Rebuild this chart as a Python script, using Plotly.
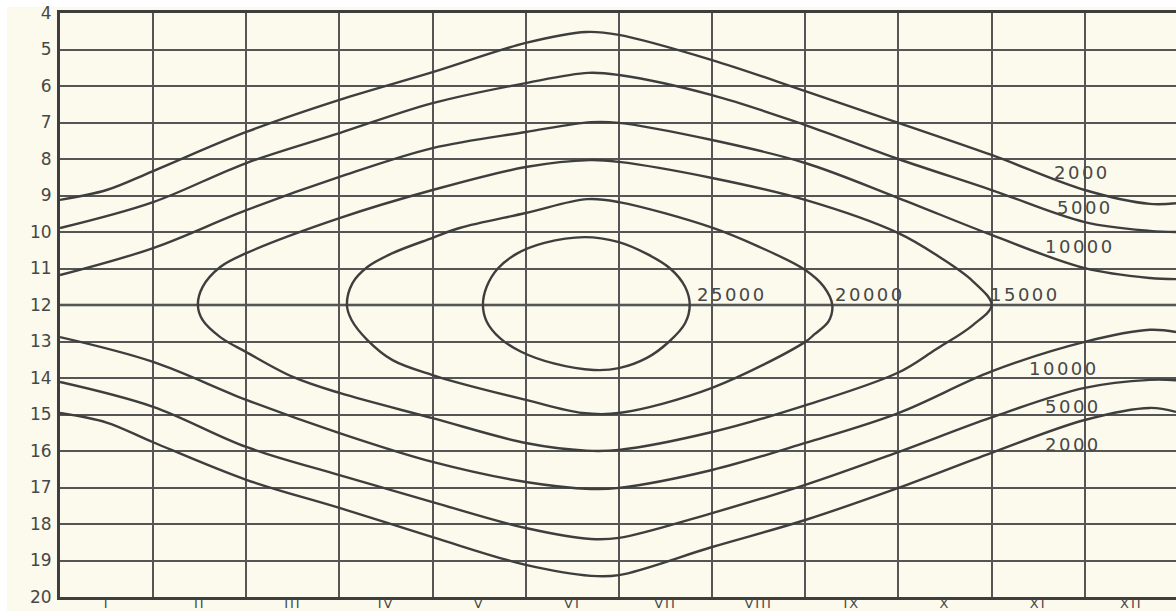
import plotly.graph_objects as go

# Month columns (x = months since 1 January) and hour rows
MONTHS = ["I", "II", "III", "IV", "V", "VI", "VII", "VIII", "IX", "X", "XI", "XII"]
HOURS = list(range(4, 21))

# Open isolines, morning branches (x: month position, y: hour of day)
am_2000_x = [0, 0.5, 1, 2, 3, 4, 5, 5.65, 6, 7, 8, 9, 10, 11, 11.7, 11.98]
am_2000_y = [9.12, 8.85, 8.33, 7.26, 6.38, 5.62, 4.82, 4.52, 4.60, 5.29, 6.14, 7.01, 7.89, 8.85, 9.23, 9.21]

am_5000_x = [0, 1, 2, 3, 4, 5, 5.67, 6, 7, 8, 9, 10, 11, 11.7, 11.98]
am_5000_y = [9.89, 9.18, 8.11, 7.29, 6.47, 5.92, 5.64, 5.70, 6.25, 7.07, 8.00, 8.85, 9.73, 9.97, 10.0]

am_10000_x = [0, 1, 2, 3, 4, 5, 5.7, 6, 7, 8, 9, 10, 11, 11.7, 11.98]
am_10000_y = [11.18, 10.44, 9.40, 8.49, 7.70, 7.26, 6.99, 7.01, 7.48, 8.11, 9.07, 10.08, 10.99, 11.26, 11.29]

# Open isolines, afternoon branches
pm_10000_x = [0, 1, 2, 3, 4, 5, 5.7, 6, 7, 8, 9, 10, 11, 11.7, 11.98]
pm_10000_y = [12.88, 13.56, 14.60, 15.51, 16.30, 16.85, 17.04, 17.01, 16.52, 15.78, 14.96, 13.82, 13.01, 12.68, 12.74]

pm_5000_x = [0, 1, 2, 3, 4, 5, 5.7, 6, 7, 8, 9, 10, 11, 11.7, 11.98]
pm_5000_y = [14.11, 14.79, 15.89, 16.66, 17.40, 18.11, 18.41, 18.38, 17.70, 16.93, 16.03, 15.08, 14.27, 14.05, 14.06]

pm_2000_x = [0, 0.5, 1, 2, 3, 4, 5, 5.7, 6, 7, 8, 9, 10, 11, 11.7, 11.98]
pm_2000_y = [14.96, 15.22, 15.76, 16.79, 17.56, 18.36, 19.12, 19.42, 19.40, 18.63, 17.89, 17.01, 16.05, 15.15, 14.82, 14.93]

# Closed isolines around noon of the summer months
lux_15000_x = [1.48, 1.53, 1.72, 2.0, 3.0, 4.0, 5.0, 5.69, 6.0, 7.0, 8.0, 9.0, 9.45, 9.8, 10.0,
               9.8, 9.4, 9.0, 8.0, 7.0, 6.0, 5.65, 5.0, 4.0, 3.0, 2.5, 2.0, 1.72, 1.53, 1.48]
lux_15000_y = [12.0, 11.51, 10.96, 10.58, 9.62, 8.85, 8.22, 8.03, 8.08, 8.52, 9.12, 10.03, 10.70, 11.35, 12.0,
               12.55, 13.22, 13.85, 14.75, 15.48, 15.97, 15.99, 15.78, 15.10, 14.41, 13.97, 13.29, 12.88, 12.41, 12.0]

lux_20000_x = [3.08, 3.14, 3.30, 3.57, 4.0, 4.29, 5.0, 5.66, 6.0, 7.0, 7.5, 8.0, 8.2, 8.29,
               8.25, 8.1, 8.0, 7.0, 6.0, 5.61, 5.0, 4.29, 4.0, 3.57, 3.30, 3.13, 3.08]
lux_20000_y = [12.0, 11.40, 10.96, 10.58, 10.16, 9.89, 9.48, 9.10, 9.18, 9.88, 10.40, 11.04, 11.5, 12.0,
               12.45, 12.8, 13.01, 14.27, 14.96, 14.96, 14.60, 14.14, 13.92, 13.51, 12.96, 12.41, 12.0]

lux_25000_x = [4.54, 4.58, 4.70, 4.90, 5.20, 5.63, 5.99, 6.30, 6.55, 6.71, 6.76,
               6.71, 6.54, 6.30, 6.0, 5.73, 5.30, 4.95, 4.72, 4.58, 4.54]
lux_25000_y = [12.0, 11.5, 11.0, 10.6, 10.3, 10.14, 10.27, 10.6, 11.0, 11.5, 12.0,
               12.5, 13.0, 13.45, 13.73, 13.78, 13.6, 13.28, 12.9, 12.45, 12.0]

# Isoline labels: text, month position, hour
label_text = ["2000", "5000", "10000", "15000", "20000", "25000", "10000", "5000", "2000"]
label_x = [10.97, 11.0, 10.95, 10.36, 8.70, 7.21, 10.78, 10.87, 10.87]
label_y = [8.36, 9.34, 10.41, 11.70, 11.70, 11.70, 13.73, 14.79, 15.81]

BG = "#fbfaec"
INK = "#3e3e3e"
GRID = "#555555"
TEXT = "#474747"
FONT = "DejaVu Sans"

curves = [
    (am_2000_x, am_2000_y), (am_5000_x, am_5000_y), (am_10000_x, am_10000_y),
    (pm_10000_x, pm_10000_y), (pm_5000_x, pm_5000_y), (pm_2000_x, pm_2000_y),
    (lux_15000_x, lux_15000_y), (lux_20000_x, lux_20000_y), (lux_25000_x, lux_25000_y),
]

fig = go.Figure()
for xs, ys in curves:
    fig.add_trace(go.Scatter(
        x=xs, y=ys, mode="lines",
        line=dict(color=INK, width=2.4, shape="spline", smoothing=1.0),
        hoverinfo="skip", showlegend=False,
    ))

# noon line drawn heavier than the other hour lines
fig.add_shape(type="line", xref="paper", x0=0, x1=1, yref="y", y0=12, y1=12,
              line=dict(color=INK, width=2.6), layer="below")

# pale border of the sheet along the top and left edges
PX_W, PX_H = 1116.0, 584.0
fig.add_shape(type="rect", xref="paper", yref="paper",
              x0=-60 / PX_W, x1=1.01, y0=1 + 6 / PX_H, y1=1 + 14 / PX_H,
              fillcolor="#ffffff", line=dict(width=0), layer="below")
fig.add_shape(type="rect", xref="paper", yref="paper",
              x0=-61 / PX_W, x1=-53 / PX_W, y0=-15 / PX_H, y1=1 + 14 / PX_H,
              fillcolor="#ffffff", line=dict(width=0), layer="below")

for t, x, y in zip(label_text, label_x, label_y):
    fig.add_annotation(
        x=x, y=y, text=f'<span style="letter-spacing:2.5px">{t}</span>',
        showarrow=False, xanchor="center", yanchor="middle",
        font=dict(family=FONT, size=18, color=TEXT),
    )

fig.update_layout(
    width=1176, height=611, autosize=False,
    margin=dict(l=60, r=0, t=13, b=14, pad=0),
    paper_bgcolor=BG, plot_bgcolor=BG,
    showlegend=False,
)

fig.update_xaxes(
    range=[0, 11.98],
    tickvals=[i + 0.5 for i in range(12)],
    ticktext=[f'<span style="letter-spacing:2px">{m}</span>' for m in MONTHS],
    showgrid=False, zeroline=False, ticks="",
    showline=True, mirror=True, linecolor=INK, linewidth=2.5,
    tickfont=dict(family=FONT, size=13, color=TEXT),
    ticklabelstandoff=-7,
    minor=dict(tick0=0, dtick=1, showgrid=True, gridcolor=GRID, gridwidth=1.8, ticks=""),
    automargin=False, fixedrange=True,
)

fig.update_yaxes(
    range=[20, 4],
    tickvals=HOURS,
    showgrid=True, gridcolor=GRID, gridwidth=1.5, zeroline=False, ticks="",
    showline=True, linecolor=INK, linewidth=3,
    tickfont=dict(family=FONT, size=17, color=TEXT),
    ticklabelstandoff=2,
    automargin=False, fixedrange=True,
)

fig.write_html("out.html")
